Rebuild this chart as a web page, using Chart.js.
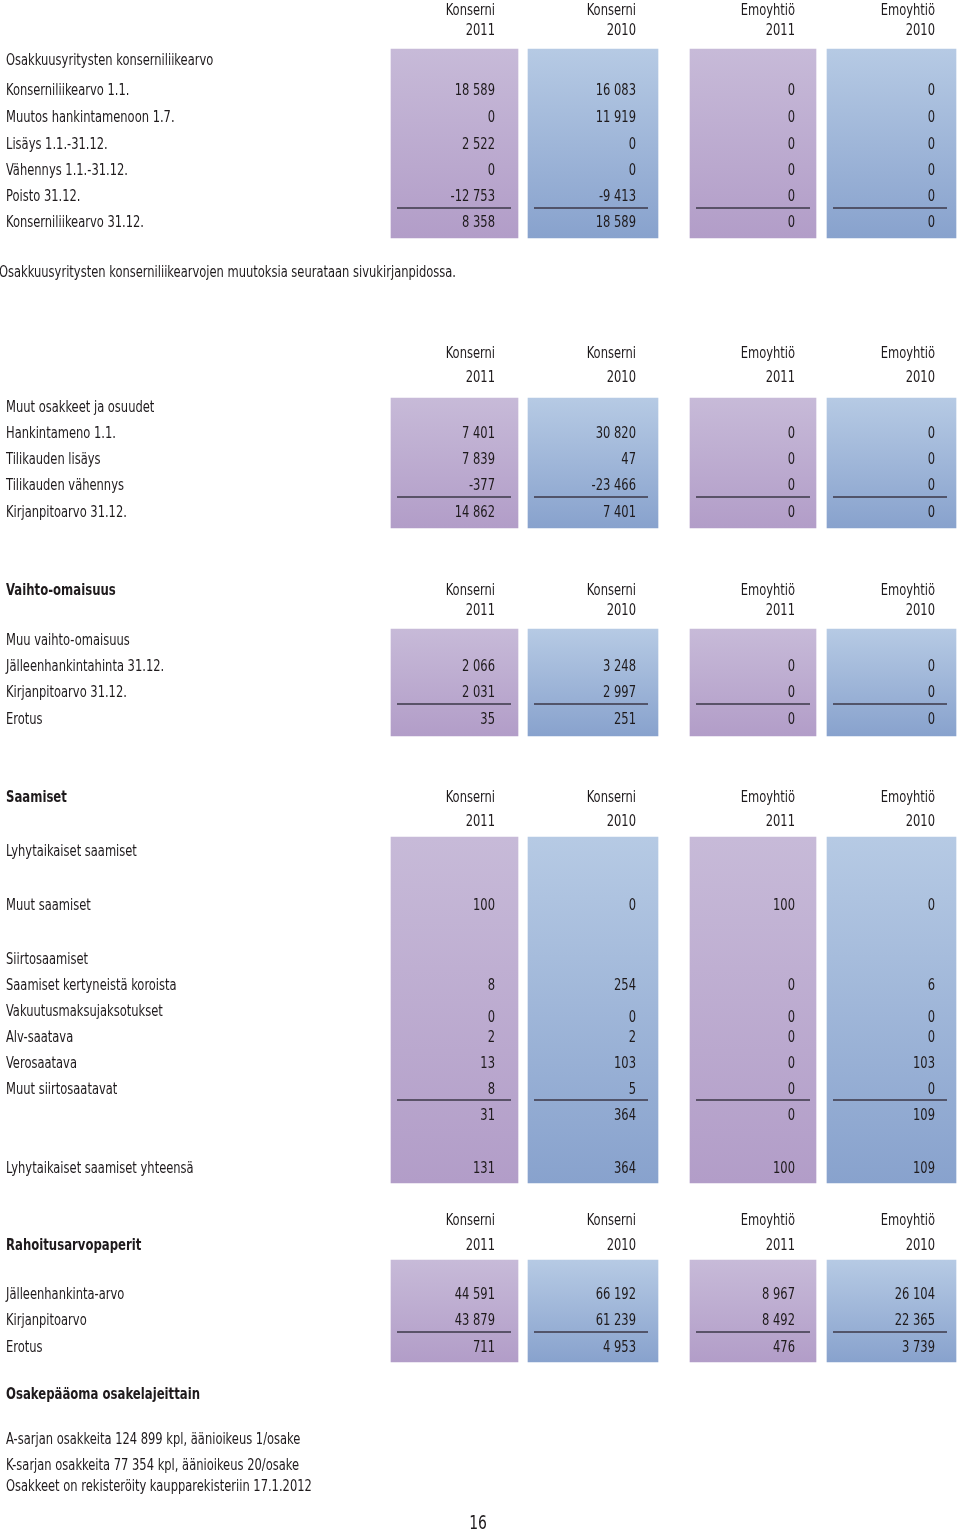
<!DOCTYPE html>
<html>
<head>
<meta charset="utf-8">
<script src="https://cdn.jsdelivr.net/npm/chart.js@4.4.1/dist/chart.umd.min.js"></script>
<style>
html,body{margin:0;padding:0;background:#ffffff;}
#wrap{position:relative;width:960px;height:1534px;}
</style>
</head>
<body>
<div id="wrap"><canvas id="c"></canvas></div>
<script>
// ---------- DATA ----------
const columnTitles = ['Konserni', 'Konserni', 'Emoyhtiö', 'Emoyhtiö'];
const columnYears = ['2011', '2010', '2011', '2010'];

// Osakkuusyritysten konserniliikearvo
const goodwillLabels = ['Osakkuusyritysten konserniliikearvo', 'Konserniliikearvo 1.1.', 'Muutos hankintamenoon 1.7.', 'Lisäys 1.1.-31.12.', 'Vähennys 1.1.-31.12.', 'Poisto 31.12.', 'Konserniliikearvo 31.12.'];
const goodwillKonserni2011 = [null, 18589, 0, 2522, 0, -12753, 8358];
const goodwillKonserni2010 = [null, 16083, 11919, 0, 0, -9413, 18589];
const goodwillEmo2011 = [null, 0, 0, 0, 0, 0, 0];
const goodwillEmo2010 = [null, 0, 0, 0, 0, 0, 0];
const goodwillNote = 'Osakkuusyritysten konserniliikearvojen muutoksia seurataan sivukirjanpidossa.';

// Muut osakkeet ja osuudet
const sharesLabels = ['Muut osakkeet ja osuudet', 'Hankintameno 1.1.', 'Tilikauden lisäys', 'Tilikauden vähennys', 'Kirjanpitoarvo 31.12.'];
const sharesKonserni2011 = [null, 7401, 7839, -377, 14862];
const sharesKonserni2010 = [null, 30820, 47, -23466, 7401];
const sharesEmo2011 = [null, 0, 0, 0, 0];
const sharesEmo2010 = [null, 0, 0, 0, 0];

// Vaihto-omaisuus
const inventoryTitle = 'Vaihto-omaisuus';
const inventoryLabels = ['Muu vaihto-omaisuus', 'Jälleenhankintahinta 31.12.', 'Kirjanpitoarvo 31.12.', 'Erotus'];
const inventoryKonserni2011 = [null, 2066, 2031, 35];
const inventoryKonserni2010 = [null, 3248, 2997, 251];
const inventoryEmo2011 = [null, 0, 0, 0];
const inventoryEmo2010 = [null, 0, 0, 0];

// Saamiset
const receivablesTitle = 'Saamiset';
const receivablesLabels = ['Lyhytaikaiset saamiset', 'Muut saamiset', 'Siirtosaamiset', 'Saamiset kertyneistä koroista', 'Vakuutusmaksujaksotukset', 'Alv-saatava', 'Verosaatava', 'Muut siirtosaatavat', '', 'Lyhytaikaiset saamiset yhteensä'];
const receivablesKonserni2011 = [null, 100, null, 8, 0, 2, 13, 8, 31, 131];
const receivablesKonserni2010 = [null, 0, null, 254, 0, 2, 103, 5, 364, 364];
const receivablesEmo2011 = [null, 100, null, 0, 0, 0, 0, 0, 0, 100];
const receivablesEmo2010 = [null, 0, null, 6, 0, 0, 103, 0, 109, 109];

// Rahoitusarvopaperit
const securitiesTitle = 'Rahoitusarvopaperit';
const securitiesLabels = ['Jälleenhankinta-arvo', 'Kirjanpitoarvo', 'Erotus'];
const securitiesKonserni2011 = [44591, 43879, 711];
const securitiesKonserni2010 = [66192, 61239, 4953];
const securitiesEmo2011 = [8967, 8492, 476];
const securitiesEmo2010 = [26104, 22365, 3739];

// Osakepääoma
const equityTitle = 'Osakepääoma osakelajeittain';
const equityLines = ['A-sarjan osakkeita 124 899 kpl, äänioikeus 1/osake', 'K-sarjan osakkeita 77 354 kpl, äänioikeus 20/osake', 'Osakkeet on rekisteröity kaupparekisteriin 17.1.2012'];
const pageNumber = '16';

// ---------- LAYOUT ----------
const colCenters = [454.5, 593, 753, 891.5];
const colWidths = [127, 130, 126, 129];
const valueRight = [495, 636, 795, 935];
const ruleSpans = [[397, 511], [534, 648], [696, 810], [833, 947]];
const labelX = 6;
const textDrop = 2;
const purpleGrad = ['#c7bad8', '#b29dc8'];
const blueGrad = ['#b6cae4', '#88a2cd'];
const colGrads = [purpleGrad, blueGrad, purpleGrad, blueGrad];
const textColor = '#1e1a1c';

const sections = [
  { labels: goodwillLabels, cols: [goodwillKonserni2011, goodwillKonserni2010, goodwillEmo2011, goodwillEmo2010],
    headerY: [9, 29], panel: [49, 238], rule: 208, rowY: [59, 89, 116, 143, 169, 195, 221] },
  { labels: sharesLabels, cols: [sharesKonserni2011, sharesKonserni2010, sharesEmo2011, sharesEmo2010],
    headerY: [352, 376], panel: [398, 528], rule: 497, rowY: [406, 432, 458, 484, 511] },
  { title: inventoryTitle, titleY: 589, labels: inventoryLabels, cols: [inventoryKonserni2011, inventoryKonserni2010, inventoryEmo2011, inventoryEmo2010],
    headerY: [589, 609], panel: [629, 736], rule: 704, rowY: [639, 665, 691, 718] },
  { title: receivablesTitle, titleY: 796, labels: receivablesLabels, cols: [receivablesKonserni2011, receivablesKonserni2010, receivablesEmo2011, receivablesEmo2010],
    headerY: [796, 820], panel: [837, 1183], rule: 1100, rowY: [850, 904, 958, 984, 1010, 1036, 1062, 1088, 1114, 1167],
    valueYShift: { 4: 6 } },
  { title: securitiesTitle, titleY: 1244, labels: securitiesLabels, cols: [securitiesKonserni2011, securitiesKonserni2010, securitiesEmo2011, securitiesEmo2010],
    headerY: [1219, 1244], panel: [1260, 1362], rule: 1332, rowY: [1293, 1319, 1346] }
];

const freeText = [
  { t: goodwillNote, x: -1, y: 271, bold: false },
  { t: equityTitle, x: labelX, y: 1393, bold: true },
  { t: equityLines[0], x: labelX, y: 1438, bold: false },
  { t: equityLines[1], x: labelX, y: 1464, bold: false },
  { t: equityLines[2], x: labelX, y: 1485, bold: false }
];

function fmt(n) {
  const s = String(Math.abs(n)).replace(/\B(?=(\d{3})+(?!\d))/g, ' ');
  return (n < 0 ? '-' : '') + s;
}

const FAMILY = '"Liberation Sans Narrow", "DejaVu Sans Condensed", "Liberation Sans", sans-serif';
const REG = '16.5px ' + FAMILY;
const BOLD = 'bold 16.5px ' + FAMILY;

// ---------- CHART ----------
const datasets = colCenters.map((cx, i) => ({
  label: columnTitles[i] + ' ' + columnYears[i],
  data: sections.map(s => ({ x: cx, y: s.panel })),
  barThickness: colWidths[i],
  grouped: false,
  borderWidth: 0,
  borderSkipped: false,
  backgroundColor: (ctx) => {
    const chart = ctx.chart;
    const raw = ctx.raw;
    if (!raw || !chart.scales || !chart.scales.y) return colGrads[i][0];
    const y0 = chart.scales.y.getPixelForValue(raw.y[0]);
    const y1 = chart.scales.y.getPixelForValue(raw.y[1]);
    if (!isFinite(y0) || !isFinite(y1)) return colGrads[i][0];
    const g = chart.ctx.createLinearGradient(0, y0, 0, y1);
    g.addColorStop(0, colGrads[i][0]);
    g.addColorStop(1, colGrads[i][1]);
    return g;
  }
}));

const tablePlugin = {
  id: 'tableText',
  afterDatasetsDraw(chart) {
    const ctx = chart.ctx;
    const xs = chart.scales.x, ys = chart.scales.y;
    const X = v => xs.getPixelForValue(v), Y = v => ys.getPixelForValue(v);

    ctx.save();
    ctx.font = REG;
    const sxR = 457 / ctx.measureText(goodwillNote).width;
    ctx.font = BOLD;
    const sxB = 194 / ctx.measureText(equityTitle).width;
    ctx.restore();

    function txt(t, x, y, align, bold, size) {
      if (!t) return;
      ctx.save();
      ctx.font = size ? (size + 'px ' + FAMILY) : (bold ? BOLD : REG);
      ctx.fillStyle = textColor;
      ctx.textBaseline = 'middle';
      ctx.textAlign = align;
      ctx.translate(X(x), Y(y + textDrop));
      ctx.scale(bold ? sxB : sxR, 1);
      ctx.fillText(t, 0, 0);
      ctx.restore();
    }

    sections.forEach(s => {
      for (let c = 0; c < 4; c++) {
        txt(columnTitles[c], valueRight[c], s.headerY[0], 'right', false);
        txt(columnYears[c], valueRight[c], s.headerY[1], 'right', false);
      }
      if (s.title) txt(s.title, labelX, s.titleY, 'left', true);
      s.labels.forEach((lab, r) => {
        txt(lab, labelX, s.rowY[r], 'left', false);
        const vy = s.rowY[r] + ((s.valueYShift && s.valueYShift[r]) || 0);
        for (let c = 0; c < 4; c++) {
          const v = s.cols[c][r];
          if (v !== null && v !== undefined) txt(fmt(v), valueRight[c], vy, 'right', false);
        }
      });
      ctx.save();
      ctx.strokeStyle = '#3b3747';
      ctx.lineWidth = 1.6;
      for (let c = 0; c < 4; c++) {
        ctx.beginPath();
        ctx.moveTo(X(ruleSpans[c][0]), Y(s.rule));
        ctx.lineTo(X(ruleSpans[c][1]), Y(s.rule));
        ctx.stroke();
      }
      ctx.restore();
    });

    freeText.forEach(f => txt(f.t, f.x, f.y, 'left', f.bold));
    txt(pageNumber, 478, 1522, 'center', false, 20);
  }
};

new Chart(document.getElementById('c'), {
  type: 'bar',
  data: { datasets },
  options: {
    responsive: true,
    maintainAspectRatio: false,
    animation: false,
    events: [],
    layout: { padding: 0 },
    plugins: { legend: { display: false }, tooltip: { enabled: false }, title: { display: false } },
    scales: {
      x: { type: 'linear', min: 0, max: 960, offset: false, display: false, grid: { display: false } },
      y: { type: 'linear', min: 0, max: 1534, reverse: true, display: false, grid: { display: false } }
    }
  },
  plugins: [tablePlugin]
});
</script>
</body>
</html>
